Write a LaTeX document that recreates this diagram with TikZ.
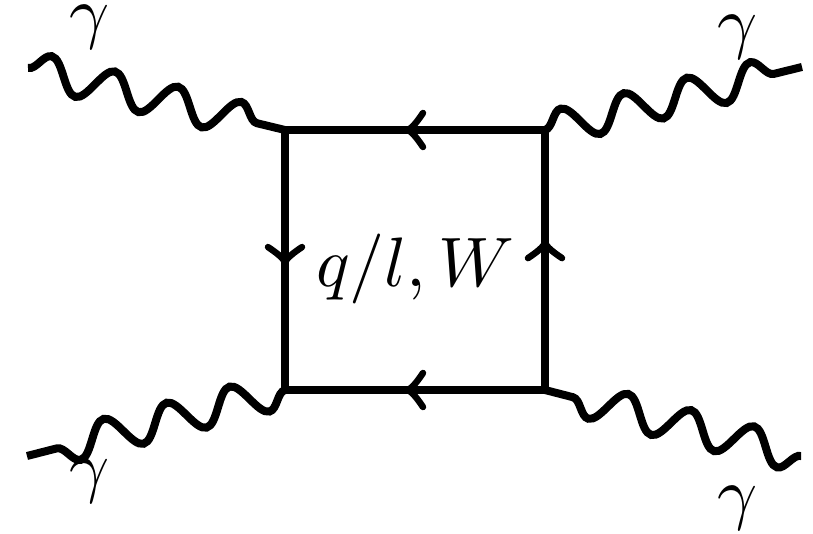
\documentclass[tikz,border=0pt]{standalone}
\usetikzlibrary{decorations.pathmorphing,decorations.markings}
\begin{document}
\begin{tikzpicture}[x=1pt,y=-1pt,
  fermion/.style={line width=7.5pt, line cap=rect},
  photon/.style={line width=8pt, decorate,
    decoration={snake, amplitude=17pt, segment length=65pt, post length=27pt}},
  midarrow/.style={postaction={decorate}, decoration={markings,
    mark=at position #1 with {\draw[line width=6.5pt, line cap=round, line join=round]
      (-15pt,17pt) .. controls (-9pt,8pt) and (-4pt,2pt) .. (0pt,0pt)
      .. controls (-4pt,-2pt) and (-9pt,-8pt) .. (-15pt,-17pt);}}},
  lbl/.style={font=\normalsize, scale=7, inner sep=0pt, anchor=base}]
\useasboundingbox (0,0) rectangle (813,534);
% vertices
\coordinate (tl) at (285,130);
\coordinate (tr) at (545,130);
\coordinate (bl) at (285,390);
\coordinate (br) at (545,390);
% outer photon ends
\coordinate (otl) at (28,68);
\coordinate (otr) at (802,67);
\coordinate (obl) at (27,456);
\coordinate (obr) at (801,456);
% loop
\draw[fermion, midarrow=0.527] (tr) -- (tl);
\draw[fermion, midarrow=0.508] (tl) -- (bl);
\draw[fermion, midarrow=0.527] (br) -- (bl);
\draw[fermion, midarrow=0.565] (br) -- (tr);
% photons
\draw[photon] (otl) -- (tl);
\draw[photon] (tr) -- (otr);
\draw[photon] (bl) -- (obl);
\draw[photon] (obr) -- (br);
% labels
\node[lbl] (center) at (415,287) {$q/l,W$};
\node[lbl] (gtl) at (90,36) {$\gamma$};
\node[lbl] (gtr) at (738,46) {$\gamma$};
\node[lbl] (gbl) at (90,489) {$\gamma$};
\node[lbl] (gbr) at (738,516) {$\gamma$};
\end{tikzpicture}
\end{document}
